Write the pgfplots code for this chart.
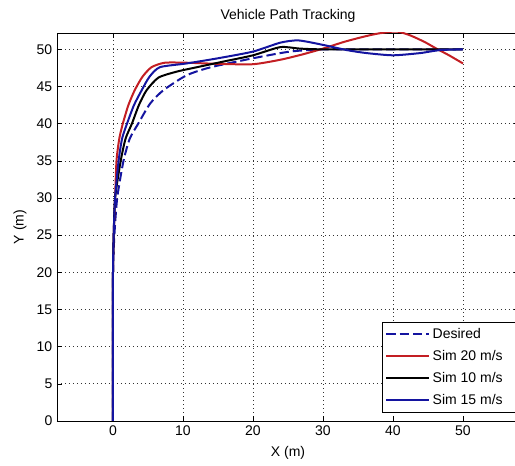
\documentclass[border=0pt]{standalone}
\usepackage{fontspec}
\setmainfont{Liberation Sans}
\usepackage{pgfplots}
\pgfplotsset{compat=1.18}

\definecolor{simred}{RGB}{195,30,35}
\definecolor{simblue}{RGB}{20,20,160}

\begin{document}
\begin{tikzpicture}
\begin{axis}[
    scale only axis,
    width=346.5pt, height=291pt,
    xmin=-8, xmax=58,
    ymin=0, ymax=52.2,
    xtick={0,10,20,30,40,50},
    ytick={0,5,10,15,20,25,30,35,40,45,50},
    tick align=inside,
    major tick length=4pt,
    tick style={black, thin},
    axis line style={black, thin},
    grid=major,
    grid style={black!80, dash pattern=on 0.6pt off 2.4pt, line width=0.5pt},
    font=\fontsize{10.5}{12}\selectfont,
    /pgf/number format/assume math mode=true,
    tick label style={font=\fontsize{10.5}{12}\selectfont},
    title={Vehicle Path Tracking},
    title style={at={(axis description cs:0.5,1)}, anchor=base, yshift=3.75pt},
    xlabel={X (m)},
    ylabel={Y (m)},
    xlabel style={at={(axis description cs:0.5,-0.0825)}, anchor=center},
    ylabel style={at={(axis description cs:-0.08,0.5)}, anchor=center},
    legend style={at={(axis cs:38.4,13.3)}, anchor=north west, draw=black,
        font=\fontsize{10.5}{12}\selectfont, row sep=3.3pt, inner sep=2.5pt},
    legend cell align=left,
    legend image code/.code={\draw[#1] (0pt,0pt) -- (32pt,0pt);},
]
% desired path
\addplot[simblue, line width=1.5pt, dash pattern=on 7pt off 3pt, smooth, tension=0.4]
    coordinates {(0,0) (0,10) (0,20) (0.2,25) (0.6,30) (1.5,35) (2.4,38) (3.6,40)
    (5.3,42.7) (7.2,44.5) (10.5,46.5) (14,47.6) (20,48.8) (25.3,49.7) (30,50) (35,50) (50,50)};
\addlegendentry{Desired}
% sim 20 m/s
\addplot[simred, line width=1.5pt, smooth, tension=0.4]
    coordinates {(0,0) (0,10) (0,20) (0.1,25) (0.3,30) (0.5,35) (0.9,38) (1.4,40)
    (2.2,42.5) (3.1,44.5) (4.2,46.3) (5.5,47.6) (7.4,48.2) (10.5,48.2) (15,48.05)
    (20,48.0) (23.9,48.6) (27,49.3) (30,50.1) (33,51.0) (35.8,51.7) (38,52.15)
    (40.5,52.4) (42.4,51.9) (44.5,51.0) (46.2,50.1) (48,49.2) (50,48.1)};
\addlegendentry{\mbox{Sim 20 m/s}\kern16pt\mbox{}}
% sim 10 m/s
\addplot[black, line width=1.5pt, smooth, tension=0.4]
    coordinates {(0,0) (0,10) (0,20) (0.1,25) (0.3,30) (1.1,35) (1.8,38) (2.7,40)
    (3.7,42.5) (4.8,44.5) (6.5,46.2) (9.1,47.0) (12,47.6) (16,48.4) (20,49.2)
    (23.9,50.3) (26.7,50.1) (30,50) (40,50) (50,50)};
\addlegendentry{Sim 10 m/s}
% sim 15 m/s
\addplot[simblue, line width=1.5pt, smooth, tension=0.4]
    coordinates {(0,0) (0,10) (0,20) (0.1,25) (0.3,30) (0.8,35) (1.3,38) (2.0,40)
    (3.0,42.5) (4.1,44.5) (5.2,46.3) (6.7,47.6) (10.5,48.1) (15,48.8) (20,49.7)
    (23.9,50.9) (26.5,51.2) (30,50.6) (33.4,49.9) (36.2,49.5) (40,49.2)
    (43.9,49.5) (46.7,49.9) (50,50)};
\addlegendentry{Sim 15 m/s}
\end{axis}
\pgfresetboundingbox
\useasboundingbox ([xshift=-42.75pt,yshift=-33.75pt]current axis.south west)
    rectangle ([xshift=343.5pt,yshift=24.75pt]current axis.north west);
\end{tikzpicture}
\end{document}
